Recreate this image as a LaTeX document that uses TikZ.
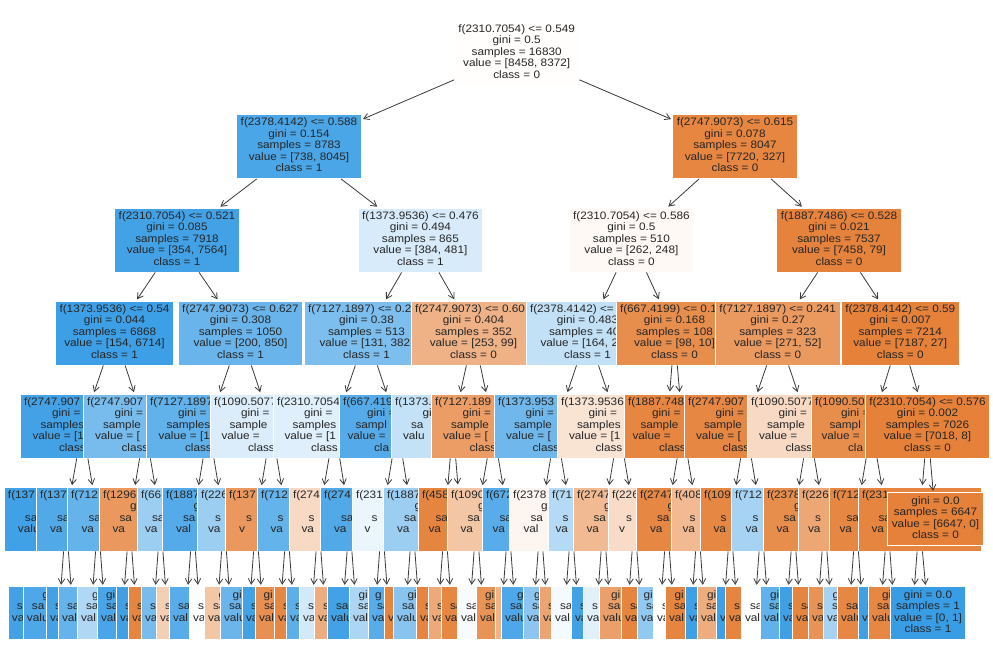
\documentclass[tikz,border=0pt]{standalone}
\usepackage{fontspec}
\setmainfont{Liberation Sans}[FakeStretch=1.09]
\usetikzlibrary{arrows.meta}

\definecolor{cls0}{HTML}{E58139}
\definecolor{cls1}{HTML}{399DE5}
\definecolor{txt}{HTML}{262626}
\definecolor{edgegray}{HTML}{3A3A3A}

\newcommand{\treefont}{\fontsize{10.8pt}{11.5pt}\selectfont}
% a line of which only the left part is seen
\newcommand{\cutline}[2]{\makebox[#1][l]{\strut#2}}
\newcommand{\fulllines}[5]{\strut#1\\\strut#2\\\strut#3\\\strut#4\\\strut#5}
\newcommand{\fullleaflines}[4]{\strut#1\\\strut#2\\\strut#3\\\strut#4}
\newcommand{\sampw}{84pt}
\newcommand{\valw}{100pt}
\newcommand{\splitlines}[6]{\cutline{\dimexpr#1pt-8pt\relax}{#2}\\\cutline{61pt}{#3}\\\cutline{\sampw}{#4}\\\cutline{\valw}{#5}\\\cutline{47pt}{#6}}
\newcommand{\leaflines}[4]{\cutline{61pt}{#2}\\\cutline{\dimexpr#1pt-18pt\relax}{#3}\\\cutline{\dimexpr#1pt-8pt\relax}{#4}\\\cutline{47pt}{}}

\begin{document}
\begin{tikzpicture}
[every node/.style={inner xsep=4pt, inner ysep=3.25pt, align=center, draw=white, line width=0.8pt, text=txt, font=\treefont},
 arr/.style={-{Straight Barb[length=5.5pt,width=6.5pt]}, line width=0.8pt, color=edgegray, shorten >=1.5pt}]
\fill [white] (0pt, 0pt) rectangle (993pt, -666pt);
\useasboundingbox (0pt, 0pt) rectangle (993pt, -666pt);

% depth 0 and 1
\node (d0) [fill=cls0!1] at (516.7pt, -53pt) {\fulllines{f(2310.7054) <= 0.549}{gini = 0.5}{samples = 16830}{value = [8458, 8372]}{class = 0}};
\node (d1n1) [fill=cls1!91] at (299pt, -146.5pt) {\fulllines{f(2378.4142) <= 0.588}{gini = 0.154}{samples = 8783}{value = [738, 8045]}{class = 1}};
\node (d1n2) [fill=cls0!96] at (735pt, -146.5pt) {\fulllines{f(2747.9073) <= 0.615}{gini = 0.078}{samples = 8047}{value = [7720, 327]}{class = 0}};

% depth 2
\node (d2n1) [fill=cls1!95] at (177pt, -240pt) {\fulllines{f(2310.7054) <= 0.521}{gini = 0.085}{samples = 7918}{value = [354, 7564]}{class = 1}};
\node (d2n2) [fill=cls1!20] at (420.4pt, -240pt) {\fulllines{f(1373.9536) <= 0.476}{gini = 0.494}{samples = 865}{value = [384, 481]}{class = 1}};
\node (d2n3) [fill=cls0!5] at (631.4pt, -240pt) {\fulllines{f(2310.7054) <= 0.586}{gini = 0.5}{samples = 510}{value = [262, 248]}{class = 0}};
\node (d2n4) [fill=cls0!99] at (839pt, -240pt) {\fulllines{f(1887.7486) <= 0.528}{gini = 0.021}{samples = 7537}{value = [7458, 79]}{class = 0}};

% depth 3
\node (d3n1) [fill=cls1!98] at (114.5pt, -333pt) {\fulllines{f(1373.9536) <= 0.54}{gini = 0.044}{samples = 6868}{value = [154, 6714]}{class = 1}};
\node (d3n2) [fill=cls1!76] at (240.5pt, -333pt) {\fulllines{f(2747.9073) <= 0.627}{gini = 0.308}{samples = 1050}{value = [200, 850]}{class = 1}};
\node (d3n3) [fill=cls1!66] at (366.5pt, -333pt) {\fulllines{\cutline{117pt}{f(7127.1897) <= 0.2}}{gini = 0.38}{samples = 513}{value = [131, 382\phantom{]}}{class = 1}};
\node (d3n4) [fill=cls0!61] at (473.5pt, -333pt) {\fulllines{\cutline{117pt}{f(2747.9073) <= 0.60}}{gini = 0.404}{samples = 352}{value = [253, 99]}{class = 0}};
\node (d3n5) [fill=cls1!31] at (587.5pt, -333pt) {\fulllines{\cutline{115pt}{f(2378.4142) <=}}{gini = 0.483}{samples = 40\phantom{2}}{value = [164, 2\phantom{38]}}{class = 1}};
\node (d3n6) [fill=cls0!90] at (674.5pt, -333pt) {\fulllines{\cutline{109pt}{f(667.4199) <= 0.1}}{gini = 0.168}{samples = 108}{value = [98, 10]}{class = 0}};
\node (d3n7) [fill=cls0!81] at (777.7pt, -333pt) {\fulllines{f(7127.1897) <= 0.241}{gini = 0.27}{samples = 323}{value = [271, 52]}{class = 0}};
\node (d3n8) [fill=cls0] at (900.3pt, -333pt) {\fulllines{f(2378.4142) <= 0.59}{gini = 0.007}{samples = 7214}{value = [7187, 27]}{class = 0}};

% depth 4
\node (d4n1) [fill=cls1!95] at (82.5pt, -426pt) {\splitlines{125}{f(2747.907}{gini =}{samples}{value = [1}{class}};
\node (d4n2) [fill=cls1!68] at (145pt, -426pt) {\splitlines{124}{f(2747.907}{gini =}{sample}{value = [}{class}};
\node (d4n3) [fill=cls1!80] at (208.5pt, -426pt) {\splitlines{125}{f(7127.1897}{gini =}{samples}{value = [1}{class}};
\node (d4n4) [fill=cls1!18] at (271.5pt, -426pt) {\splitlines{123}{f(1090.5077}{gini =}{sample}{value =}{class}};
\node (d4n5) [fill=cls1!16] at (334.5pt, -426pt) {\splitlines{123}{f(2310.7054}{gini =}{samples}{value = [1}{class}};
\node (d4n6) [fill=cls1!86] at (397.5pt, -426pt) {\splitlines{117}{f(667.419}{gini =}{sampl}{value =}{cla}};
\node (d4n7) [fill=cls1!30] at (453pt, -426pt) {\splitlines{124}{f(1373.}{gi}{sa}{valu}{}};
\node (d4n8) [fill=cls0!78] at (493pt, -426pt) {\splitlines{124}{f(7127.189}{gini =}{sample}{value = [}{class}};
\node (d4n9) [fill=cls1!72] at (556pt, -426pt) {\splitlines{124}{f(1373.953}{gini =}{sample}{value = [}{class}};
\node (d4n10) [fill=cls0!22] at (619pt, -426pt) {\splitlines{124}{f(1373.9536}{gini =}{samples}{value = [1}{class}};
\node (d4n11) [fill=cls0!96] at (682.5pt, -426pt) {\splitlines{117}{f(1887.748}{gini =}{sample}{value =}{class}};
\node (d4n12) [fill=cls0!95] at (746pt, -426pt) {\splitlines{124}{f(2747.907}{gini =}{sample}{value = [}{class}};
\node (d4n13) [fill=cls0!30] at (809pt, -426pt) {\splitlines{124}{f(1090.5077}{gini =}{sample}{value =}{class}};
\node (d4n14) [fill=cls0!90] at (871.5pt, -426pt) {\splitlines{121}{f(1090.50}{gini =}{sampl}{value =}{cla}};
\node (d4n15) [fill=cls0] at (927.5pt, -426pt) {\fulllines{f(2310.7054) <= 0.576}{gini = 0.002}{samples = 7026}{value = [7018, 8]}{class = 0}};
\coordinate (d4h) at (669.7pt, -393pt);

% depth 5
\renewcommand{\sampw}{82pt}\renewcommand{\valw}{96pt}
\node (d5n1) [fill=cls1!96] at (66pt, -519pt) {\splitlines{124}{f(137}{}{sa}{valu}{}};
\node (d5n2) [fill=cls1!88] at (98pt, -519pt) {\splitlines{124}{f(137}{}{sa}{va}{}};
\node (d5n3) [fill=cls1!78] at (129.5pt, -519pt) {\splitlines{125}{f(712}{}{sa}{va}{}};
\node (d5n4) [fill=cls0!82] at (160.5pt, -519pt) {\splitlines{123}{f(1296}{g}{sa}{va}{}};
\node (d5n5) [fill=cls1!50] at (193pt, -519pt) {\splitlines{112}{f(66}{}{sa}{va}{}};
\node (d5n6) [fill=cls1!86] at (224pt, -519pt) {\splitlines{124}{f(1887}{g}{sa}{val}{}};
\node (d5n7) [fill=cls1!50] at (256pt, -519pt) {\splitlines{118}{f(226}{}{s}{va}{}};
\node (d5n8) [fill=cls0!82] at (287pt, -519pt) {\splitlines{124}{f(137}{}{s}{v}{}};
\node (d5n9) [fill=cls1!78] at (318.5pt, -519pt) {\splitlines{123}{f(712}{}{s}{va}{}};
\node (d5n10) [fill=cls0!30] at (349.5pt, -519pt) {\splitlines{121}{f(274}{}{s}{va}{}};
\node (d5n11) [fill=cls1!88] at (382pt, -519pt) {\splitlines{124}{f(274}{}{sa}{va}{}};
\node (d5n12) [fill=cls1!10] at (412.5pt, -519pt) {\splitlines{121}{f(231}{}{s}{v}{}};
\node (d5n13) [fill=cls1!50] at (445pt, -519pt) {\splitlines{124}{f(1887}{g}{sa}{va}{}};
\coordinate (d5h) at (458pt, -486pt);
\node (d5n14) [fill=cls0!97] at (476.5pt, -519pt) {\splitlines{117}{f(458}{}{sa}{va}{}};
\node (d5n15) [fill=cls0!45] at (508.5pt, -519pt) {\splitlines{123}{f(1090}{g}{sa}{va}{}};
\node (d5n16) [fill=cls1!85] at (540.5pt, -519pt) {\splitlines{117}{f(672}{}{sa}{va}{}};
\node (d5n17) [fill=cls0!8] at (571.5pt, -519pt) {\splitlines{125}{f(2378}{g}{sa}{val}{}};
\node (d5n18) [fill=cls1!38] at (603.5pt, -519pt) {\splitlines{111}{f(71}{}{s}{va}{}};
\node (d5n19) [fill=cls0!55] at (634.5pt, -519pt) {\splitlines{123}{f(2747}{g}{sa}{va}{}};
\node (d5n20) [fill=cls0!28] at (667pt, -519pt) {\splitlines{118}{f(226}{}{s}{v}{}};
\node (d5n21) [fill=cls0!95] at (698pt, -519pt) {\splitlines{124}{f(2747}{g}{sa}{va}{}};
\node (d5n22) [fill=cls0!55] at (730.5pt, -519pt) {\splitlines{119}{f(408}{}{s}{va}{}};
\node (d5n23) [fill=cls0!95] at (761.5pt, -519pt) {\splitlines{123}{f(109}{}{s}{va}{}};
\node (d5n24) [fill=cls1!45] at (793.5pt, -519pt) {\splitlines{125}{f(712}{}{s}{va}{}};
\node (d5n25) [fill=cls0!90] at (824.5pt, -519pt) {\splitlines{123}{f(2378}{g}{sa}{va}{}};
\node (d5n26) [fill=cls0!70] at (856pt, -519pt) {\splitlines{116}{f(226}{}{s}{va}{}};
\node (d5n27) [fill=cls0!95] at (887.5pt, -519pt) {\splitlines{117}{f(712}{}{sa}{va}{}};
\node (d5n28) [fill=cls0!97] at (919.5pt, -519pt) {\splitlines{123}{f(231}{}{sa}{va}{}};
\node (d5n29) [fill=cls0] at (935.5pt, -519pt) {\fullleaflines{gini = 0.0}{samples = 6647}{value = [6647, 0]}{class = 0}};

% depth 6
\node (d6n1) [fill=cls1!95] at (59pt, -613pt) {\leaflines{102}{}{s}{va}};
\node (d6n2) [fill=cls1!90] at (73pt, -613pt) {\leaflines{100}{g}{sa}{valu}};
\node (d6n3) [fill=cls1!95] at (91pt, -613pt) {\leaflines{90}{}{s}{va}};
\node (d6n4) [fill=cls1!78] at (105pt, -613pt) {\leaflines{94}{}{sa}{val}};
\node (d6n5) [fill=cls1!40] at (122.5pt, -613pt) {\leaflines{91}{g}{sa}{val}};
\node (d6n6) [fill=cls1!92] at (136.5pt, -613pt) {\leaflines{79}{gi}{sa}{val}};
\node (d6n7) [fill=cls1!97] at (153.5pt, -613pt) {\leaflines{75}{}{s}{va}};
\node (d6n8) [fill=cls0!97] at (167.5pt, -613pt) {\leaflines{79}{}{s}{va}};
\node (d6n9) [fill=cls1!68] at (186pt, -613pt) {\leaflines{90}{}{s}{va}};
\node (d6n10) [fill=cls0!38] at (200pt, -613pt) {\leaflines{88}{}{s}{va}};
\node (d6n11) [fill=cls1!85] at (217pt, -613pt) {\leaflines{96}{}{sa}{val}};
\node (d6n12) [fill=white] at (231pt, -613pt) {\leaflines{84}{}{sa}{va}};
\node (d6n13) [fill=cls0!45] at (249pt, -613pt) {\leaflines{90}{g}{sa}{va}};
\node (d6n14) [fill=cls1!75] at (263pt, -613pt) {\leaflines{86}{gi}{sa}{valu}};
\node (d6n15) [fill=cls1!95] at (280pt, -613pt) {\leaflines{76}{}{s}{va}};
\node (d6n16) [fill=cls0!88] at (294pt, -613pt) {\leaflines{78}{gi}{sa}{val}};
\node (d6n17) [fill=cls0!95] at (311.5pt, -613pt) {\leaflines{75}{}{s}{va}};
\node (d6n18) [fill=cls1!82] at (325.5pt, -613pt) {\leaflines{79}{}{s}{va}};
\node (d6n19) [fill=cls1!22] at (342.5pt, -613pt) {\leaflines{87}{}{s}{va}};
\node (d6n20) [fill=cls0!65] at (356.5pt, -613pt) {\leaflines{85}{}{s}{va}};
\node (d6n21) [fill=cls1!95] at (375pt, -613pt) {\leaflines{96}{}{sa}{valu}};
\node (d6n22) [fill=cls1!42] at (389pt, -613pt) {\leaflines{80}{gi}{sa}{val}};
\node (d6n23) [fill=cls1!85] at (405.5pt, -613pt) {\leaflines{75}{g}{sa}{va}};
\node (d6n24) [fill=cls0!97] at (419.5pt, -613pt) {\leaflines{71}{}{}{v}};
\node (d6n25) [fill=cls1!60] at (438pt, -613pt) {\leaflines{90}{gi}{sa}{valu}};
\node (d6n26) [fill=cls0!97] at (452pt, -613pt) {\leaflines{72}{}{s}{va}};
\node (d6n27) [fill=cls0!68] at (469.5pt, -613pt) {\leaflines{83}{}{s}{va}};
\node (d6n28) [fill=cls0!95] at (483.5pt, -613pt) {\leaflines{85}{}{sa}{va}};
\node (d6n29) [fill=cls1!4] at (501.5pt, -613pt) {\leaflines{89}{}{sa}{val}};
\node (d6n30) [fill=cls0!85] at (515.5pt, -613pt) {\leaflines{79}{gi}{sa}{val}};
\node (d6n31) [fill=cls0!60] at (533.5pt, -613pt) {\leaflines{77}{}{}{}};
\node (d6n32) [fill=cls1!90] at (547.5pt, -613pt) {\leaflines{93}{g}{sa}{valu}};
\node (d6n33) [fill=cls1!58] at (564.5pt, -613pt) {\leaflines{83}{g}{sa}{va}};
\node (d6n34) [fill=cls0!72] at (578.5pt, -613pt) {\leaflines{79}{}{s}{va}};
\node (d6n35) [fill=cls1!5] at (596.5pt, -613pt) {\leaflines{91}{}{sa}{val}};
\node (d6n36) [fill=cls1!95] at (610.5pt, -613pt) {\leaflines{79}{}{s}{va}};
\node (d6n37) [fill=cls1!15] at (627.5pt, -613pt) {\leaflines{89}{}{s}{va}};
\node (d6n38) [fill=cls0!75] at (641.5pt, -613pt) {\leaflines{85}{gi}{sa}{valu}};
\node (d6n39) [fill=cls0!97] at (660pt, -613pt) {\leaflines{78}{}{sa}{va}};
\node (d6n40) [fill=cls1!55] at (674pt, -613pt) {\leaflines{74}{gi}{sa}{va}};
\node (d6n41) [fill=white] at (691pt, -613pt) {\leaflines{76}{}{s}{va}};
\node (d6n42) [fill=cls0!97] at (705pt, -613pt) {\leaflines{80}{gi}{sa}{val}};
\node (d6n43) [fill=cls1!97] at (723.5pt, -613pt) {\leaflines{77}{}{s}{va}};
\node (d6n44) [fill=cls0!65] at (737.5pt, -613pt) {\leaflines{81}{gi}{sa}{val}};
\node (d6n45) [fill=cls1!97] at (754.5pt, -613pt) {\leaflines{77}{}{s}{v}};
\node (d6n46) [fill=cls0!97] at (768.5pt, -613pt) {\leaflines{87}{}{s}{va}};
\node (d6n47) [fill=white] at (786.5pt, -613pt) {\leaflines{91}{}{sa}{val}};
\node (d6n48) [fill=cls1!80] at (800.5pt, -613pt) {\leaflines{81}{gi}{sa}{val}};
\node (d6n49) [fill=cls1!97] at (817.5pt, -613pt) {\leaflines{77}{}{s}{va}};
\node (d6n50) [fill=cls0!97] at (831.5pt, -613pt) {\leaflines{79}{}{sa}{va}};
\node (d6n51) [fill=cls0!85] at (849pt, -613pt) {\leaflines{82}{}{s}{va}};
\node (d6n52) [fill=cls1!45] at (863pt, -613pt) {\leaflines{80}{g}{s}{va}};
\node (d6n53) [fill=cls0!95] at (880.5pt, -613pt) {\leaflines{87}{}{sa}{valu}};
\node (d6n54) [fill=cls1!97] at (894.5pt, -613pt) {\leaflines{73}{}{s}{v}};
\node (d6n55) [fill=cls0!95] at (912.5pt, -613pt) {\leaflines{89}{gi}{sa}{valu}};
\node (d6n56) [fill=cls1] at (928pt, -613pt) {\fullleaflines{gini = 0.0}{samples = 1}{value = [0, 1]}{class = 1}};

% edges
\draw [arr] (d0) to (d1n1); \draw [arr] (d0) to (d1n2);
\draw [arr] (d1n1) to (d2n1); \draw [arr] (d1n1) to (d2n2);
\draw [arr] (d1n2) to (d2n3); \draw [arr] (d1n2) to (d2n4);
\draw [arr] (d2n1) to (d3n1); \draw [arr] (d2n1) to (d3n2);
\draw [arr] (d2n2) to (d3n3); \draw [arr] (d2n2) to (d3n4);
\draw [arr] (d2n3) to (d3n5); \draw [arr] (d2n3) to (d3n6);
\draw [arr] (d2n4) to (d3n7); \draw [arr] (d2n4) to (d3n8);
\draw [arr] (d3n1) to (d4n1); \draw [arr] (d3n1) to (d4n2);
\draw [arr] (d3n2) to (d4n3); \draw [arr] (d3n2) to (d4n4);
\draw [arr] (d3n3) to (d4n5); \draw [arr] (d3n3) to (d4n6);
\draw [arr] (d3n4) to (d4n7); \draw [arr] (d3n4) to (d4n8);
\draw [arr] (d3n5) to (d4n9); \draw [arr] (d3n5) to (d4n10);
\draw [arr] (d3n6) to (d4h); \draw [arr] (d3n6) to (d4n11);
\draw [arr] (d3n7) to (d4n12); \draw [arr] (d3n7) to (d4n13);
\draw [arr] (d3n8) to (d4n14); \draw [arr] (d3n8) to (d4n15);
\draw [arr] (d4n1) to (d5n1); \draw [arr] (d4n1) to (d5n2);
\draw [arr] (d4n2) to (d5n3); \draw [arr] (d4n2) to (d5n4);
\draw [arr] (d4n3) to (d5n5); \draw [arr] (d4n3) to (d5n6);
\draw [arr] (d4n4) to (d5n7); \draw [arr] (d4n4) to (d5n8);
\draw [arr] (d4n5) to (d5n9); \draw [arr] (d4n5) to (d5n10);
\draw [arr] (d4n6) to (d5n11); \draw [arr] (d4n6) to (d5n12);
\draw [arr] (d4n7) to (d5n13); \draw [arr] (d4n7) to (d5h);
\draw [arr] (d4n8) to (d5n14); \draw [arr] (d4n8) to (d5n15);
\draw [arr] (d4n9) to (d5n16); \draw [arr] (d4n9) to (d5n17);
\draw [arr] (d4n10) to (d5n18); \draw [arr] (d4n10) to (d5n19);
\draw [arr] (d4n11) to (d5n20); \draw [arr] (d4n11) to (d5n21);
\draw [arr] (d4n12) to (d5n22); \draw [arr] (d4n12) to (d5n23);
\draw [arr] (d4n13) to (d5n24); \draw [arr] (d4n13) to (d5n25);
\draw [arr] (d4n14) to (d5n26); \draw [arr] (d4n14) to (d5n27);
\draw [arr] (d4n15) to (d5n28); \draw [arr] (d4n15) to (d5n29);
\draw [arr] (d5n1) to (d6n1); \draw [arr] (d5n1) to (d6n2);
\draw [arr] (d5n2) to (d6n3); \draw [arr] (d5n2) to (d6n4);
\draw [arr] (d5n3) to (d6n5); \draw [arr] (d5n3) to (d6n6);
\draw [arr] (d5n4) to (d6n7); \draw [arr] (d5n4) to (d6n8);
\draw [arr] (d5n5) to (d6n9); \draw [arr] (d5n5) to (d6n10);
\draw [arr] (d5n6) to (d6n11); \draw [arr] (d5n6) to (d6n12);
\draw [arr] (d5n7) to (d6n13); \draw [arr] (d5n7) to (d6n14);
\draw [arr] (d5n8) to (d6n15); \draw [arr] (d5n8) to (d6n16);
\draw [arr] (d5n9) to (d6n17); \draw [arr] (d5n9) to (d6n18);
\draw [arr] (d5n10) to (d6n19); \draw [arr] (d5n10) to (d6n20);
\draw [arr] (d5n11) to (d6n21); \draw [arr] (d5n11) to (d6n22);
\draw [arr] (d5n12) to (d6n23); \draw [arr] (d5n12) to (d6n24);
\draw [arr] (d5n13) to (d6n25); \draw [arr] (d5n13) to (d6n26);
\draw [arr] (d5n14) to (d6n27); \draw [arr] (d5n14) to (d6n28);
\draw [arr] (d5n15) to (d6n29); \draw [arr] (d5n15) to (d6n30);
\draw [arr] (d5n16) to (d6n31); \draw [arr] (d5n16) to (d6n32);
\draw [arr] (d5n17) to (d6n33); \draw [arr] (d5n17) to (d6n34);
\draw [arr] (d5n18) to (d6n35); \draw [arr] (d5n18) to (d6n36);
\draw [arr] (d5n19) to (d6n37); \draw [arr] (d5n19) to (d6n38);
\draw [arr] (d5n20) to (d6n39); \draw [arr] (d5n20) to (d6n40);
\draw [arr] (d5n21) to (d6n41); \draw [arr] (d5n21) to (d6n42);
\draw [arr] (d5n22) to (d6n43); \draw [arr] (d5n22) to (d6n44);
\draw [arr] (d5n23) to (d6n45); \draw [arr] (d5n23) to (d6n46);
\draw [arr] (d5n24) to (d6n47); \draw [arr] (d5n24) to (d6n48);
\draw [arr] (d5n25) to (d6n49); \draw [arr] (d5n25) to (d6n50);
\draw [arr] (d5n26) to (d6n51); \draw [arr] (d5n26) to (d6n52);
\draw [arr] (d5n27) to (d6n53); \draw [arr] (d5n27) to (d6n54);
\draw [arr] (d5n28) to (d6n55); \draw [arr] (d5n28) to (d6n56);
\end{tikzpicture}
\end{document}
